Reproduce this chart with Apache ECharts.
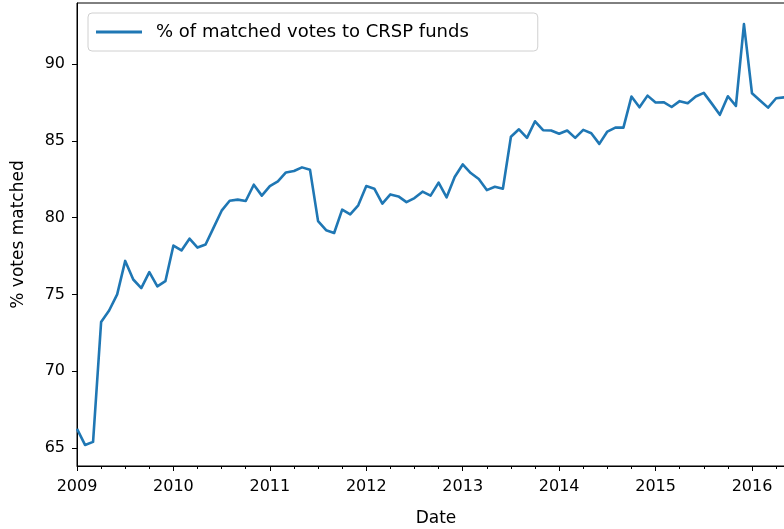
<!DOCTYPE html>
<html>
<head>
<meta charset="utf-8">
<script src="https://cdn.jsdelivr.net/npm/echarts@6/dist/echarts.min.js"></script>
<style>
  html, body { margin: 0; padding: 0; background: #fff; }
  #chart { width: 784px; height: 529px; }
</style>
</head>
<body>
<div id="chart"></div>
<script>
// Monthly share of votes matched to CRSP funds
const months = [
  '2009-01','2009-02','2009-03','2009-04','2009-05','2009-06','2009-07','2009-08','2009-09','2009-10','2009-11','2009-12',
  '2010-01','2010-02','2010-03','2010-04','2010-05','2010-06','2010-07','2010-08','2010-09','2010-10','2010-11','2010-12',
  '2011-01','2011-02','2011-03','2011-04','2011-05','2011-06','2011-07','2011-08','2011-09','2011-10','2011-11','2011-12',
  '2012-01','2012-02','2012-03','2012-04','2012-05','2012-06','2012-07','2012-08','2012-09','2012-10','2012-11','2012-12',
  '2013-01','2013-02','2013-03','2013-04','2013-05','2013-06','2013-07','2013-08','2013-09','2013-10','2013-11','2013-12',
  '2014-01','2014-02','2014-03','2014-04','2014-05','2014-06','2014-07','2014-08','2014-09','2014-10','2014-11','2014-12',
  '2015-01','2015-02','2015-03','2015-04','2015-05','2015-06','2015-07','2015-08','2015-09','2015-10','2015-11','2015-12',
  '2016-01','2016-02','2016-03','2016-04','2016-05'
];
const matchedPct = [
  66.25, 65.20, 65.40, 73.20, 73.95, 75.00, 77.18, 75.97, 75.41, 76.45, 75.52, 75.86,
  78.18, 77.86, 78.63, 78.05, 78.25, 79.35, 80.45, 81.10, 81.17, 81.08, 82.14, 81.43,
  82.05, 82.36, 82.94, 83.03, 83.27, 83.11, 79.77, 79.18, 79.00, 80.52, 80.21, 80.80,
  82.05, 81.88, 80.91, 81.51, 81.38, 81.01, 81.27, 81.69, 81.43, 82.28, 81.32, 82.64,
  83.46, 82.90, 82.51, 81.79, 82.01, 81.88, 85.26, 85.75, 85.19, 86.27, 85.69, 85.67,
  85.46, 85.67, 85.19, 85.71, 85.49, 84.80, 85.60, 85.86, 85.86, 87.88, 87.18, 87.94,
  87.49, 87.51, 87.20, 87.58, 87.44, 87.88, 88.12, 87.42, 86.69, 87.90, 87.27, 92.60,
  88.09, 87.62, 87.16, 87.77, 87.83
];
const yearTicks = [2009, 2010, 2011, 2012, 2013, 2014, 2015, 2016];
const pctTicks = [65, 70, 75, 80, 85, 90];
const seriesName = '% of matched votes to CRSP funds';

// months -> fractional years for the value axis
const toYear = s => {
  const [y, m] = s.split('-').map(Number);
  return y + (m - 1) / 12;
};
const points = months.map((m, i) => [toYear(m), matchedPct[i]]);

// quarter minor ticks between the yearly ticks
const quarterTicks = [];
for (let y = yearTicks[0]; y <= 2016.5; y += 0.25) {
  if (Math.abs(y - Math.round(y)) > 1e-6) quarterTicks.push(+y.toFixed(2));
}

const FONT = '"DejaVu Sans", sans-serif';
const xMin = 2009, xMax = 2016.446;
const yMin = 63.83, yMax = 93.97;

const chart = echarts.init(document.getElementById('chart'), null, { renderer: 'canvas' });
chart.setOption({
  animation: false,
  textStyle: { fontFamily: FONT },
  grid: {
    left: 77, right: -11, top: 3, bottom: 63,
    outerBoundsMode: 'none',
    containLabel: false,
    show: true, borderColor: '#000', borderWidth: 1, backgroundColor: 'transparent'
  },
  legend: {
    left: 88, top: 13,
    data: [seriesName],
    icon: 'rect',
    backgroundColor: '#fff',
    borderColor: '#d0d0d0', borderWidth: 1, borderRadius: 4,
    padding: [10, 69, 10, 8],
    itemWidth: 46, itemHeight: 3,
    textStyle: { fontFamily: FONT, fontSize: 18, color: '#000', padding: [0, 0, 0, 9] }
  },
  xAxis: [
    {
      type: 'value', min: xMin, max: xMax,
      name: 'Date', nameLocation: 'middle', nameGap: 44,
      nameTextStyle: { fontFamily: FONT, fontSize: 17, color: '#000' },
      axisLine: { show: true, onZero: false, lineStyle: { color: '#000', width: 1 } },
      axisTick: { show: true, length: 5, inside: false, customValues: yearTicks, lineStyle: { color: '#000', width: 1 } },
      axisLabel: { show: true, customValues: yearTicks, margin: 13, fontFamily: FONT, fontSize: 16, color: '#000',
                   formatter: v => String(Math.round(v)) },
      splitLine: { show: false }
    },
    {
      type: 'value', min: xMin, max: xMax, position: 'bottom', offset: 0,
      axisLine: { show: false },
      axisTick: { show: true, length: 3, inside: false, customValues: quarterTicks, lineStyle: { color: '#000', width: 1 } },
      axisLabel: { show: false },
      splitLine: { show: false }
    }
  ],
  yAxis: {
    type: 'value', min: yMin, max: yMax,
    name: '% votes matched', nameLocation: 'middle', nameGap: 50, nameRotate: 90,
    nameTextStyle: { fontFamily: FONT, fontSize: 17, color: '#000' },
    axisLine: { show: true, onZero: false, lineStyle: { color: '#000', width: 1 } },
    axisTick: { show: true, length: 5, inside: false, customValues: pctTicks, lineStyle: { color: '#000', width: 1 } },
    axisLabel: { show: true, customValues: pctTicks, margin: 12, fontFamily: FONT, fontSize: 16, color: '#000' },
    splitLine: { show: false }
  },
  series: [{
    name: seriesName,
    type: 'line',
    xAxisIndex: 0,
    data: points,
    showSymbol: false,
    symbol: 'none',
    lineStyle: { color: '#1f77b4', width: 2.6, join: 'round' },
    itemStyle: { color: '#1f77b4' },
    clip: true
  }]
});
</script>
</body>
</html>
